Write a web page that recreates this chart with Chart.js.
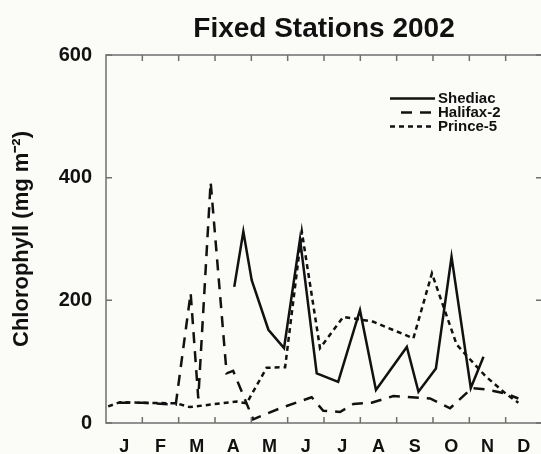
<!DOCTYPE html>
<html>
<head>
<meta charset="utf-8">
<script src="https://cdn.jsdelivr.net/npm/chart.js@4/dist/chart.umd.min.js"></script>
<style>
  html, body { margin: 0; padding: 0; background: #fbfbf8; overflow: hidden; }
  #wrap { position: relative; width: 548px; height: 454px; }
</style>
</head>
<body>
<div id="wrap"><canvas id="chl"></canvas></div>
<script>
// Chlorophyll at the fixed stations, 2002 (time in months from 1 January)
const chartTitle = 'Fixed Stations 2002';
const yAxisTitle = 'Chlorophyll (mg m\u207B\u00B2)';
const monthLabels = ['J', 'F', 'M', 'A', 'M', 'J', 'J', 'A', 'S', 'O', 'N', 'D'];
const yTickValues = [0, 200, 400, 600];

const shediacTime = [3.53, 3.78, 4.01, 4.47, 4.90, 5.34, 5.80, 6.39, 6.99, 7.43, 8.28, 8.60, 9.08, 9.51, 10.04, 10.39];
const shediacChl  = [222, 312, 233, 152, 122, 300, 81, 67, 184, 54, 124, 51, 89, 271, 57, 108];

const halifaxTime = [0.35, 1.00, 1.92, 2.33, 2.54, 2.88, 3.32, 3.50, 4.05, 4.79, 5.66, 5.98, 6.44, 6.81, 7.31, 7.91, 8.92, 9.47, 10.07, 10.45, 11.00, 11.35];
const halifaxChl  = [33, 33, 30, 212, 40, 393, 81, 85, 6, 24, 42, 20, 18, 31, 33, 44, 40, 24, 57, 55, 48, 40];

const princeTime = [0.06, 0.39, 0.95, 1.95, 2.30, 3.60, 3.87, 4.42, 4.93, 5.39, 5.89, 6.53, 6.99, 7.36, 8.46, 8.97, 9.65, 10.00, 10.45, 11.00, 11.35];
const princeChl  = [27, 34, 33, 32, 26, 35, 32, 90, 91, 312, 122, 173, 169, 165, 138, 244, 128, 105, 76, 48, 33];

const seriesNames = ['Shediac', 'Halifax-2', 'Prince-5'];

const toPoints = (t, v) => t.map((x, i) => ({ x: x, y: v[i] }));

const INK = '#111111';
const FRAME = '#6f6f6f';
const FONT = '"Liberation Sans", Arial, Helvetica, sans-serif';

// Page background
const backdrop = {
  id: 'backdrop',
  beforeDraw(chart) {
    const ctx = chart.ctx;
    ctx.save();
    ctx.fillStyle = '#fbfbf8';
    ctx.fillRect(0, 0, chart.width, chart.height);
    ctx.restore();
  }
};

// Boxed frame with inward tick marks on all four sides
const frameTicks = {
  id: 'frameTicks',
  afterDatasetsDraw(chart) {
    const { ctx, chartArea: a, scales } = chart;
    const len = 6;
    ctx.save();
    ctx.strokeStyle = FRAME;
    ctx.lineWidth = 1.5;
    ctx.setLineDash([]);
    ctx.strokeRect(a.left, a.top, a.right - a.left, a.bottom - a.top);
    ctx.beginPath();
    for (let m = 1; m < monthLabels.length; m++) {
      const px = scales.x.getPixelForValue(m);
      ctx.moveTo(px, a.bottom); ctx.lineTo(px, a.bottom - len);
      ctx.moveTo(px, a.top); ctx.lineTo(px, a.top + len);
    }
    yTickValues.forEach(v => {
      const py = scales.y.getPixelForValue(v);
      ctx.moveTo(a.left, py); ctx.lineTo(a.left + len, py);
      ctx.moveTo(a.right, py); ctx.lineTo(a.right - len, py);
    });
    ctx.stroke();
    ctx.restore();
  }
};

// Title centred over the plot area
const plotTitle = {
  id: 'plotTitle',
  afterDraw(chart) {
    const { ctx, chartArea: a } = chart;
    ctx.save();
    ctx.fillStyle = INK;
    ctx.font = 'bold 28px ' + FONT;
    ctx.textAlign = 'center';
    ctx.textBaseline = 'alphabetic';
    ctx.fillText(chartTitle, (a.left + a.right) / 2, 37);
    ctx.restore();
  }
};

// Line-sample key in the upper right of the plot
const lineKey = {
  id: 'lineKey',
  afterDraw(chart) {
    const ctx = chart.ctx;
    const x0 = 390, x1 = 435, tx = 438;
    const rows = [98.5, 112.5, 126.5];
    ctx.save();
    chart.data.datasets.forEach((ds, i) => {
      const y = rows[i];
      ctx.strokeStyle = ds.borderColor;
      ctx.lineWidth = ds.borderWidth;
      ctx.setLineDash(ds.borderDash || []);
      ctx.beginPath();
      ctx.moveTo(ds.keyStart || x0, y);
      ctx.lineTo(x1, y);
      ctx.stroke();
      ctx.setLineDash([]);
      ctx.fillStyle = INK;
      ctx.font = 'bold 15px ' + FONT;
      ctx.textAlign = 'left';
      ctx.textBaseline = 'middle';
      ctx.fillText(ds.label, tx, y + 0.5);
    });
    ctx.restore();
  }
};

new Chart(document.getElementById('chl'), {
  type: 'line',
  data: {
    datasets: [
      {
        label: seriesNames[0],
        data: toPoints(shediacTime, shediacChl),
        borderColor: INK, borderWidth: 2.5, borderDash: [],
        pointRadius: 0, tension: 0, fill: false
      },
      {
        label: seriesNames[1],
        data: toPoints(halifaxTime, halifaxChl),
        borderColor: INK, borderWidth: 2.5, borderDash: [11, 8],
        keyStart: 401,
        pointRadius: 0, tension: 0, fill: false
      },
      {
        label: seriesNames[2],
        data: toPoints(princeTime, princeChl),
        borderColor: INK, borderWidth: 2.5, borderDash: [5, 4],
        pointRadius: 0, tension: 0, fill: false
      }
    ]
  },
  options: {
    responsive: true,
    maintainAspectRatio: false,
    animation: false,
    devicePixelRatio: 1,
    layout: { padding: { top: 55, right: 6, left: 0, bottom: 0 } },
    plugins: {
      legend: { display: false },
      title: { display: false },
      tooltip: { enabled: false }
    },
    scales: {
      x: {
        type: 'linear',
        min: 0,
        max: 12,
        afterBuildTicks: s => { s.ticks = monthLabels.map((_, i) => ({ value: i + 0.5 })); },
        afterFit: s => { s.height = 31; },
        grid: { display: false, drawTicks: false },
        border: { display: false },
        ticks: {
          autoSkip: false,
          maxRotation: 0,
          padding: 13,
          color: INK,
          font: { family: FONT, size: 18, weight: 'bold' },
          callback: (v, i) => monthLabels[i]
        }
      },
      y: {
        type: 'linear',
        min: 0,
        max: 600,
        afterBuildTicks: s => { s.ticks = yTickValues.map(v => ({ value: v })); },
        afterFit: s => { s.width = 106; },
        grid: { display: false, drawTicks: false },
        border: { display: false },
        ticks: {
          padding: 14,
          color: INK,
          font: { family: FONT, size: 20, weight: 'bold' }
        },
        title: {
          display: true,
          text: yAxisTitle,
          color: INK,
          font: { family: FONT, size: 22, weight: 'bold' },
          padding: { top: 9, bottom: 0 }
        }
      }
    }
  },
  plugins: [backdrop, frameTicks, plotTitle, lineKey]
});
</script>
</body>
</html>
